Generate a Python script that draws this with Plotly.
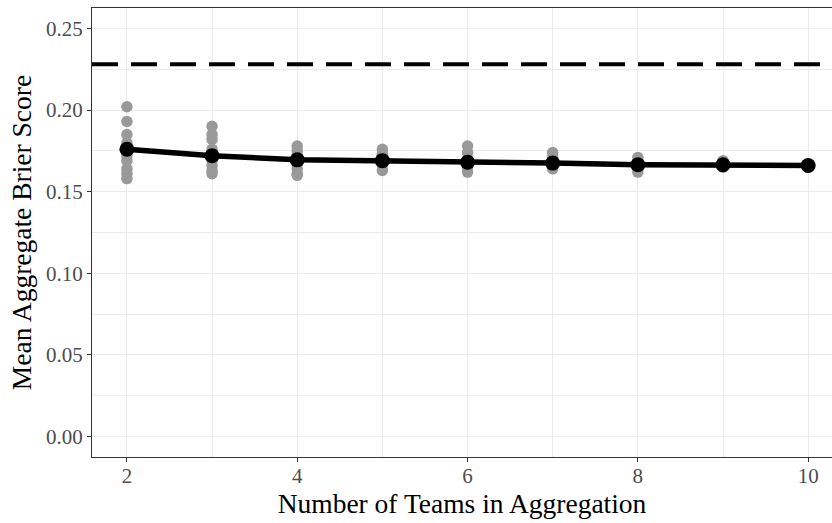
import plotly.graph_objects as go

# Individual aggregate Brier scores per team-count
team_counts = [2, 3, 4, 5, 6, 7, 8, 9, 10]
scores_by_count = {
    2: [0.202, 0.193, 0.185, 0.180, 0.176, 0.172, 0.169, 0.164, 0.161, 0.158],
    3: [0.190, 0.185, 0.182, 0.176, 0.172, 0.169, 0.166, 0.163, 0.161],
    4: [0.178, 0.175, 0.172, 0.170, 0.167, 0.164, 0.161, 0.160],
    5: [0.176, 0.173, 0.170, 0.168, 0.166, 0.163],
    6: [0.178, 0.174, 0.170, 0.168, 0.165, 0.162],
    7: [0.174, 0.171, 0.168, 0.166, 0.164],
    8: [0.171, 0.168, 0.166, 0.164, 0.162],
    9: [0.169, 0.167, 0.165],
    10: [0.166],
}
# Mean score for each team-count
mean_scores = [0.176, 0.172, 0.1695, 0.169, 0.168, 0.1675, 0.1665, 0.1665, 0.166]
# Reference (single-team) score
baseline = 0.228

y_ticks = [0.00, 0.05, 0.10, 0.15, 0.20, 0.25]
x_ticks = [2, 4, 6, 8, 10]

font_family = "Liberation Serif, Times New Roman, serif"

pts_x, pts_y = [], []
for k in team_counts:
    for v in scores_by_count[k]:
        pts_x.append(k)
        pts_y.append(v)

fig = go.Figure()
fig.add_trace(go.Scatter(
    x=pts_x, y=pts_y, mode="markers",
    marker=dict(color="#999999", size=11.5, line=dict(width=0)),
    showlegend=False, hoverinfo="skip",
))
fig.add_trace(go.Scatter(
    x=team_counts, y=mean_scores, mode="lines+markers",
    line=dict(color="black", width=5.5),
    marker=dict(color="black", size=15),
    showlegend=False,
))
fig.add_hline(y=baseline, line=dict(color="black", width=4, dash="26px,13px"))

grid_col = "#ebebeb"
fig.update_layout(
    width=832, height=523,
    margin=dict(l=92, r=0, t=8, b=66),
    paper_bgcolor="white", plot_bgcolor="white",
    font=dict(family=font_family, color="#4d4d4d", size=21),
    xaxis=dict(
        range=[1.59, 10.28], tickvals=x_ticks, ticktext=[str(t) for t in x_ticks],
        showgrid=True, gridcolor=grid_col, gridwidth=1.2,
        minor=dict(tickvals=[3, 5, 7, 9], showgrid=True, gridcolor=grid_col, gridwidth=0.7),
        ticks="outside", ticklen=4, tickcolor="#333333", tickwidth=1,
        ticklabelstandoff=-4,
        showline=True, linecolor="#333333", linewidth=1.2, mirror=True,
        zeroline=False,
        title=dict(text="Number of Teams in Aggregation", font=dict(size=27.5, color="black"), standoff=6),
    ),
    yaxis=dict(
        range=[-0.0125, 0.2625], tickvals=y_ticks, ticktext=[f"{t:.2f}" for t in y_ticks],
        showgrid=True, gridcolor=grid_col, gridwidth=1.2,
        minor=dict(tickvals=[0.025, 0.075, 0.125, 0.175, 0.225], showgrid=True, gridcolor=grid_col, gridwidth=0.7),
        ticks="outside", ticklen=4, tickcolor="#333333", tickwidth=1,
        showline=True, linecolor="#333333", linewidth=1.2, mirror=True,
        zeroline=False,
        title=dict(text="Mean Aggregate Brier Score", font=dict(size=27.5, color="black"), standoff=6),
    ),
)

fig.write_html("out.html")
